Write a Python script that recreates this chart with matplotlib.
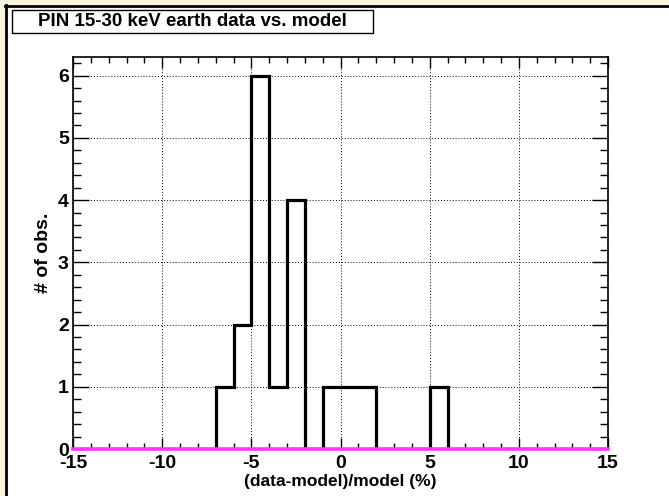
import numpy as np
import matplotlib.pyplot as plt
from matplotlib.patches import Rectangle
from matplotlib.ticker import MultipleLocator

# histogram of (data-model)/model, 1% bins from -15 to 15
bin_edges = np.arange(-15, 16, 1)
bin_lo = [-7, -6, -5, -4, -3, -2, -1, 0, 1, 5]
bin_n = [1, 2, 6, 1, 4, 0, 1, 1, 1, 1]

counts = np.zeros(len(bin_edges) - 1)
for lo, n in zip(bin_lo, bin_n):
    counts[lo + 15] = n

title = "PIN 15-30 keV earth data vs. model"
xlabel = "(data-model)/model (%)"
ylabel = "# of obs."

plt.rcParams['font.family'] = ['Liberation Sans', 'DejaVu Sans']
plt.rcParams['font.weight'] = 'bold'
plt.rcParams['axes.unicode_minus'] = False

W, H = 669, 496
fig = plt.figure(figsize=(W / 100, H / 100), dpi=100, facecolor='white')

def px(x0, y0, w, h):
    # pixel box (from top-left) -> figure fraction
    return (x0 / W, 1 - (y0 + h) / H, w / W, h / H)

# cream strips on top/left plus dark frame
cream = '#fdf3e1'
fig.add_artist(Rectangle((0, 1 - 5 / H), 1, 5 / H, transform=fig.transFigure,
                         facecolor=cream, edgecolor='none'))
fig.add_artist(Rectangle((0, 0), 5 / W, 1, transform=fig.transFigure,
                         facecolor=cream, edgecolor='none'))
fig.add_artist(plt.Line2D([5.5 / W, 5.5 / W], [0, 1 - 5 / H], color='black', lw=2,
                          transform=fig.transFigure))
fig.add_artist(plt.Line2D([5 / W, 1], [1 - 5.5 / H, 1 - 5.5 / H], color='black', lw=2,
                          transform=fig.transFigure))

# title box
tb = px(12, 10, 361, 23)
fig.add_artist(Rectangle(tb[:2], tb[2], tb[3], transform=fig.transFigure,
                         facecolor='white', edgecolor='black', lw=1))
fig.text(tb[0] + tb[2] / 2, tb[1] + tb[3] / 2, title, ha='center', va='center',
         fontsize=13.5, fontweight='bold')

ax = fig.add_axes([73 / W, 1 - 449 / H, 535 / W, 392 / H])
ax.set_facecolor('white')

ax.stairs(counts, bin_edges, color='black', lw=2.3, zorder=3)
ax.axhline(0, color='#ff33ff', lw=2.6, zorder=5, clip_on=False)

ax.set_xlim(-15, 15)
ax.set_ylim(0, 6.3)
ax.xaxis.set_major_locator(MultipleLocator(5))
ax.xaxis.set_minor_locator(MultipleLocator(1))
ax.yaxis.set_major_locator(MultipleLocator(1))
ax.yaxis.set_minor_locator(MultipleLocator(0.2))

ax.grid(True, which='major', linestyle=(0, (1, 2)), color='black', lw=0.7, zorder=1)

ax.tick_params(axis='x', which='major', direction='in', length=8, width=1,
               top=True, labelsize=14, pad=4)
ax.tick_params(axis='x', which='minor', direction='in', length=4.5, width=1, top=True)
ax.tick_params(axis='y', which='major', direction='in', length=11.5, width=1,
               right=True, labelsize=14, pad=3)
ax.tick_params(axis='y', which='minor', direction='in', length=5.8, width=1, right=True)
for lab in ax.get_xticklabels() + ax.get_yticklabels():
    lab.set_fontweight('bold')

for s in ax.spines.values():
    s.set_linewidth(1.2)

ax.set_xlabel(xlabel, fontsize=12.5, fontweight='bold')
ax.set_ylabel(ylabel, fontsize=14, fontweight='bold')
ax.xaxis.set_label_coords(0.5, -0.083)
ax.xaxis.label.set_va('center')
ax.yaxis.set_label_coords(-0.055, 0.5)
ax.yaxis.label.set_va('center')

fig.savefig("out.png", dpi=100)
